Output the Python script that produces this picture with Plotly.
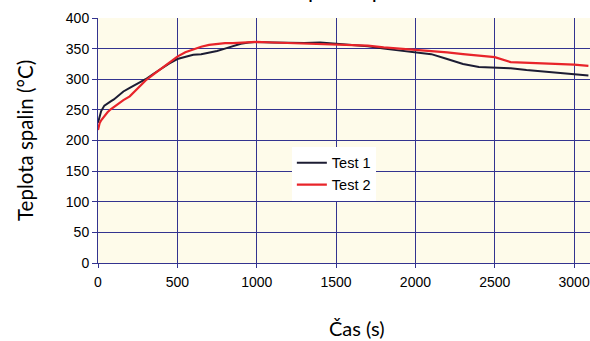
import plotly.graph_objects as go

# Time axis (s) and flue-gas temperatures (°C) for the two runs
time_s = [0, 10, 20, 40, 60, 80, 100, 130, 160, 200, 250, 300, 350, 400, 450,
          500, 550, 600, 650, 700, 750, 800, 850, 900, 950, 1000, 1100, 1200,
          1300, 1400, 1500, 1600, 1700, 1800, 1900, 2000, 2100, 2200, 2300,
          2400, 2500, 2600, 2700, 2800, 2900, 3000, 3090]

test1 = [229, 240, 248, 257, 261, 264, 267, 273, 280, 286, 293, 300, 309, 318,
         326, 333, 337, 340, 341, 343, 346, 350, 354, 358, 360, 361, 360, 359,
         359, 360, 358, 356, 354, 350, 347, 344, 341, 333, 325, 320, 319, 318,
         315, 313, 311, 309, 306]

test2 = [217, 228, 233, 240, 246, 251, 255, 260, 266, 272, 285, 298, 308, 318,
         328, 337, 344, 349, 353, 356, 358, 359, 359, 360, 360, 361, 360, 359,
         358, 358, 357, 356, 355, 352, 350, 349, 346, 344, 341, 338, 336, 328,
         327, 327, 325, 324, 322]

x_ticks = [0, 500, 1000, 1500, 2000, 2500, 3000]
y_ticks = [0, 50, 100, 150, 200, 250, 300, 350, 400]

grid_col = "#33338f"
font_main = "Liberation Sans, Arial, sans-serif"
font_title = "Lato, Liberation Sans, sans-serif"

fig = go.Figure()
fig.add_trace(go.Scatter(x=time_s, y=test1, mode="lines", name="Test 1",
                         line=dict(color="#1c1c33", width=2)))
fig.add_trace(go.Scatter(x=time_s, y=test2, mode="lines", name="Test 2",
                         line=dict(color="#e8242a", width=2.2)))

fig.update_layout(
    width=590, height=341,
    margin=dict(l=98, r=0, t=18, b=78),
    paper_bgcolor="white",
    plot_bgcolor="#fefbea",
    font=dict(family=font_main, size=14, color="black"),
    showlegend=True,
    legend=dict(x=0.394, y=0.474, xanchor="left", yanchor="top",
                bgcolor="white", borderwidth=0,
                font=dict(size=14.5, family=font_main),
                tracegroupgap=0),
    xaxis=dict(range=[0, 3100], tickvals=x_ticks, showgrid=True,
               gridcolor=grid_col, gridwidth=1, zeroline=False,
               showline=True, linecolor=grid_col, linewidth=1,
               ticks="outside", ticklen=4, tickcolor=grid_col,
               ticklabelstandoff=2, tickfont=dict(size=14)),
    yaxis=dict(range=[0, 400], tickvals=y_ticks, showgrid=True,
               gridcolor=grid_col, gridwidth=1, zeroline=False,
               showline=True, linecolor=grid_col, linewidth=1,
               ticks="outside", ticklen=5, tickcolor=grid_col,
               tickfont=dict(size=14)),
    annotations=[
        dict(text="Čas (s)", xref="paper", yref="paper",
             x=(357 - 98) / 492, y=(263 - 328) / 245,
             xanchor="center", yanchor="middle", showarrow=False,
             font=dict(size=20, family=font_title)),
        dict(text="Teplota spalin (°C)", xref="paper", yref="paper",
             x=(25 - 98) / 492, y=(263 - 141) / 245, textangle=-90,
             xanchor="center", yanchor="middle", showarrow=False,
             font=dict(size=20.5, family=font_title)),
        dict(text="Teplota spalin", xref="paper", yref="paper",
             x=(352 - 98) / 492, y=(263 - 5) / 245,
             xanchor="center", yanchor="bottom", showarrow=False,
             font=dict(size=22, family=font_title)),
    ],
)

fig.write_html("out.html")
